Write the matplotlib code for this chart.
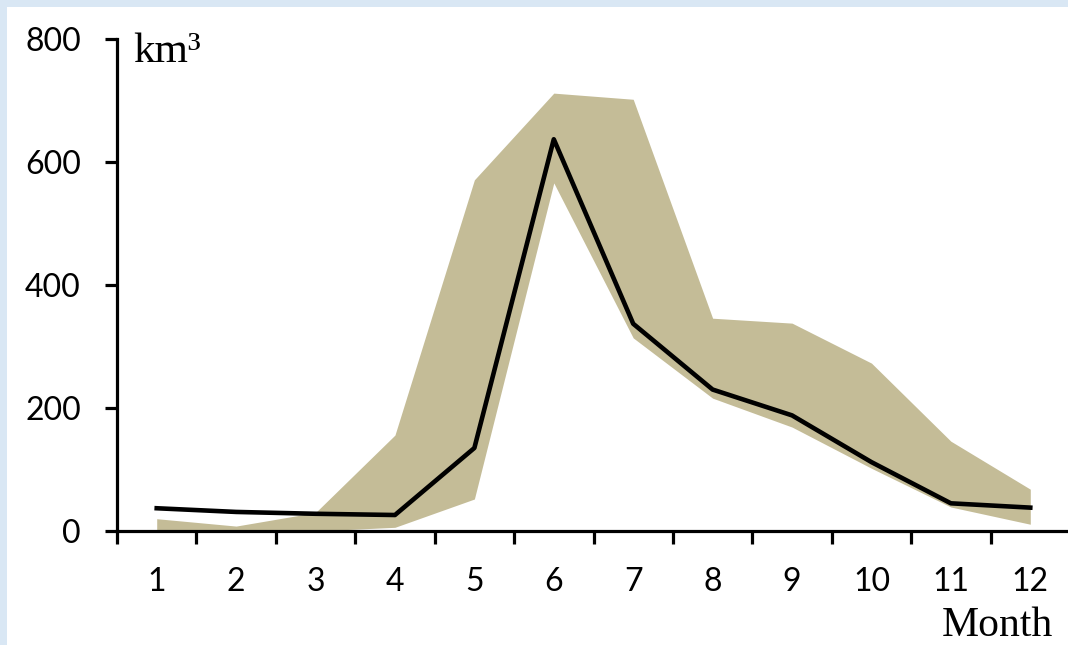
import numpy as np
import matplotlib.pyplot as plt
from matplotlib.patches import Rectangle

# monthly runoff, km3
months = list(range(1, 13))
mean_flow = [37, 31, 28, 26, 135, 637, 337, 230, 188, 112, 45, 38]
band_high = [20, 8, 30, 156, 571, 712, 702, 346, 338, 273, 146, 68]
band_low = [0, 0, 0, 6, 52, 566, 314, 216, 169, 102, 39, 11]

fig = plt.figure(figsize=(10.68, 6.45), dpi=100)
fig.patch.set_facecolor('#d9e7f4')
fig.patches.append(Rectangle((7/1068, 0), 1, 638/645, transform=fig.transFigure,
                             facecolor='white', edgecolor='none', zorder=-5))

ax = fig.add_axes([117/1068, 114/645, 953/1068, 492/645])
ax.set_facecolor('none')
ax.set_zorder(2)

ax.fill_between(months, band_low, band_high, color='#c4bc97', lw=0, zorder=1)
ax.plot(months, mean_flow, color='black', lw=3.3, zorder=2)

ax.set_xlim(0.5, 12.5)
ax.set_ylim(0, 800)

for s in ['top', 'right']:
    ax.spines[s].set_visible(False)
for s in ['left', 'bottom']:
    ax.spines[s].set_linewidth(2.3)

ax.set_yticks([0, 200, 400, 600, 800])
ax.tick_params(axis='y', length=9, width=2.3, pad=17, labelsize=23)
for t in ax.get_yticklabels():
    t.set_family('Lato')

ax.set_xticks(np.arange(0.5, 13, 1))
ax.set_xticklabels([])
ax.set_xticks(months, minor=True)
ax.set_xticklabels([str(m) for m in months], minor=True)
ax.tick_params(axis='x', which='major', direction='out', length=9, width=2.3)
ax.tick_params(axis='x', which='minor', length=0, pad=26, labelsize=23)
for t in ax.get_xticklabels(minor=True):
    t.set_family('Lato')

fig.text(133/1068, 1 - 62/645, 'km³', fontsize=31, family='Liberation Serif',
         ha='left', va='baseline')
fig.text(1053/1068, 1 - 636/645, 'Month', fontsize=30, family='Liberation Serif',
         ha='right', va='baseline')

fig.savefig('out.png', dpi=100, facecolor=fig.get_facecolor())
